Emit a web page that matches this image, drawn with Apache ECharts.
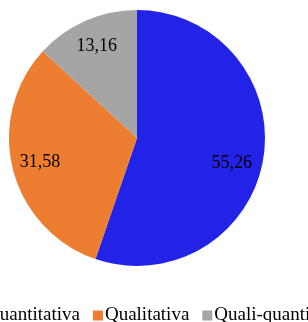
<!DOCTYPE html>
<html>
<head>
<meta charset="utf-8">
<script src="https://cdn.jsdelivr.net/npm/echarts@6/dist/echarts.min.js"></script>
<style>
  html, body { margin: 0; padding: 0; background: #fff; }
  #chart { width: 308px; height: 322px; }
</style>
</head>
<body>
<div id="chart"></div>
<script>
  // dados
  const categories = ['Quantitativa', 'Qualitativa', 'Quali-quantitativa'];
  const values = [55.26, 31.58, 13.16];
  const colors = ['#2323E8', '#ED7D31', '#A5A5A5'];

  const pieData = categories.map((name, i) => ({ name: name, value: values[i] }));
  // rotulo da fatia azul fica um pouco mais baixo no original
  const labelData = pieData.map((d, i) =>
    i === 0 ? Object.assign({}, d, { label: { offset: [-4, 9] } }) : d
  );

  const chart = echarts.init(document.getElementById('chart'));
  const option = {
    animation: false,
    color: colors,
    legend: {
      data: categories,
      orient: 'horizontal',
      left: -31,
      top: 301,
      width: 600,
      icon: 'rect',
      itemWidth: 10,
      itemHeight: 10,
      itemGap: 13,
      textStyle: {
        fontFamily: 'Liberation Serif',
        fontSize: 19,
        color: '#000',
        padding: [0, 0, 0, -3],
      },
    },
    series: [
      {
        // fatias
        type: 'pie',
        center: [137, 138],
        radius: [0, 128],
        startAngle: 90,
        clockwise: true,
        data: pieData,
        label: { show: false },
        labelLine: { show: false },
        emphasis: { disabled: true },
      },
      {
        // so os rotulos (anel transparente para posicionar o texto)
        type: 'pie',
        center: [137, 138],
        radius: [66, 128],
        startAngle: 90,
        clockwise: true,
        silent: true,
        data: labelData,
        itemStyle: { color: 'rgba(0,0,0,0)' },
        label: {
          show: true,
          position: 'inside',
          formatter: (p) => p.value.toFixed(2).replace('.', ','),
          fontFamily: 'Liberation Serif',
          fontSize: 18,
          color: '#000',
        },
        labelLine: { show: false },
        emphasis: { disabled: true },
      },
    ],
  };
  chart.setOption(option);
</script>
</body>
</html>
